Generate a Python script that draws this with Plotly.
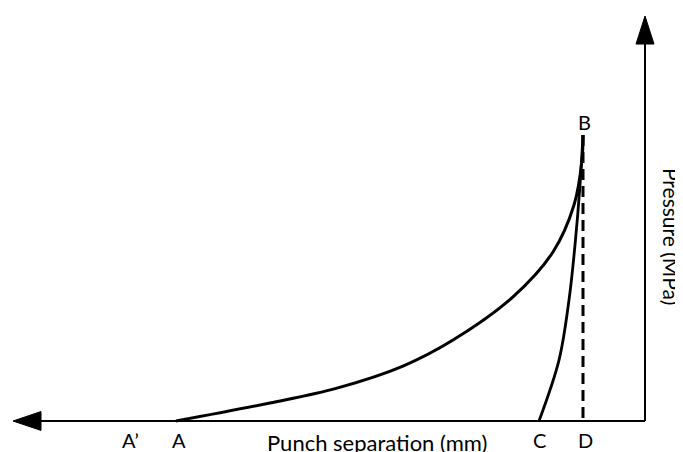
import plotly.graph_objects as go

# loading curve A -> B (separation in mm, pressure in MPa, schematic units)
load_sep = [46.9, 37.5, 30.8, 24.2, 19.2, 13.2, 9.2, 7.1, 6.3, 6.2]
load_p = [0, 6.3, 11.5, 19.2, 28.3, 43.4, 59.1, 75.5, 91.3, 100]

# unloading curve B -> C
unload_sep = [10.6, 8.6, 7.6, 7.0, 6.5, 6.2]
unload_p = [0, 21.3, 42.3, 61.5, 82.5, 100]

# point labels on the separation axis
point_labels = ["A\u2019", "A", "C", "D"]
point_sep = [51.5, 46.6, 10.6, 6.0]

peak_sep = 6.2
peak_p = 100

font = "Lato, 'Open Sans', sans-serif"

fig = go.Figure()

fig.add_trace(go.Scatter(
    x=load_sep, y=load_p, mode="lines",
    line=dict(color="black", width=3, shape="spline", smoothing=1.0),
    hoverinfo="skip",
))
fig.add_trace(go.Scatter(
    x=unload_sep, y=unload_p, mode="lines",
    line=dict(color="black", width=2.8, shape="spline", smoothing=1.0),
    hoverinfo="skip",
))
# B -> D dashed drop
fig.add_trace(go.Scatter(
    x=[peak_sep, peak_sep], y=[peak_p, 0], mode="lines",
    line=dict(color="black", width=3, dash="11px,6px"),
    hoverinfo="skip",
))

# axes with arrowheads
fig.add_shape(type="line", x0=0, y0=0, x1=60.6, y1=0,
              line=dict(color="black", width=2))
fig.add_shape(type="path", path="M 63.2 0 L 60.4 3.3 L 60.4 -3.3 Z",
              fillcolor="black", line=dict(color="black", width=1))
fig.add_shape(type="line", x0=0, y0=0, x1=0, y1=132.2,
              line=dict(color="black", width=2))
fig.add_shape(type="path", path="M 0 141.6 L 0.9 131.8 L -0.9 131.8 Z",
              fillcolor="black", line=dict(color="black", width=1))

for lab, s in zip(point_labels, point_sep):
    fig.add_annotation(x=s, y=-6.6, text=lab, showarrow=False,
                       font=dict(size=20, color="black", family=font))

fig.add_annotation(x=peak_sep - 0.15, y=104.4, text="B", showarrow=False,
                   font=dict(size=20, color="black", family=font))
fig.add_annotation(x=26.8, y=-7.4, text="Punch separation (mm)", showarrow=False,
                   font=dict(size=22, color="black", family=font))
fig.add_annotation(x=-2.6, y=64.7, text="Pressure (MPa)", showarrow=False,
                   textangle=90,
                   font=dict(size=21, color="black", family=font))

# page body has an 8px margin, so the figure is drawn 8px smaller
fig.update_layout(
    width=675, height=444,
    margin=dict(l=0, r=0, t=0, b=0),
    plot_bgcolor="white", paper_bgcolor="white",
    showlegend=False,
    xaxis=dict(range=[63.7, -3.8], visible=False, fixedrange=True),
    yaxis=dict(range=[-10.84, 144.4], visible=False, fixedrange=True),
)

fig.write_html("out.html")
